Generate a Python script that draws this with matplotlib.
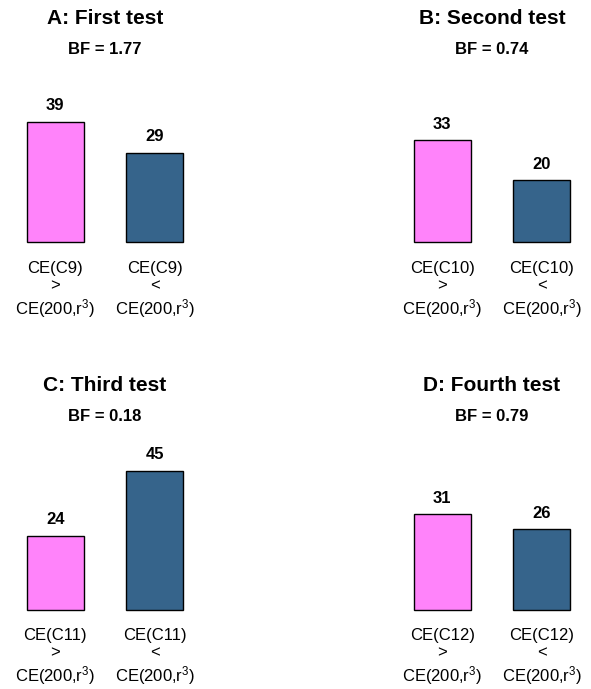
import matplotlib
matplotlib.use("Agg")
import matplotlib.pyplot as plt

plt.rcParams['font.family'] = ['Liberation Sans', 'DejaVu Sans']
plt.rcParams['mathtext.fontset'] = 'custom'
plt.rcParams['mathtext.rm'] = 'Liberation Sans'
plt.rcParams['mathtext.it'] = 'Liberation Sans'

# one panel per test: title, Bayes factor, counts for the two outcomes
titles = ['A: First test', 'B: Second test', 'C: Third test', 'D: Fourth test']
bf_values = ['1.77', '0.74', '0.18', '0.79']
clusters = ['C9', 'C10', 'C11', 'C12']
greater_counts = [39, 33, 24, 31]
less_counts = [29, 20, 45, 26]

bar_colors = ['#FF83FA', '#36648B']  # orchid1, steelblue4

W, H = 591, 689
fig = plt.figure(figsize=(W / 100, H / 100), dpi=100)

# axes boxes in pixels: (left, bar baseline from top)
boxes = [(27, 242), (414, 242), (27, 609.5), (414, 609.5)]
ax_w, ax_h = 156, 154
ymax = 50

for i in range(4):
    left, base = boxes[i]
    ax = fig.add_axes([left / W, (H - base) / H, ax_w / W, ax_h / H])
    xs = [0, 1.75]
    vals = [greater_counts[i], less_counts[i]]
    bars = ax.bar(xs, vals, width=1.0, color=bar_colors, edgecolor='black', linewidth=1.0)
    for b in bars:
        b.set_clip_on(False)
    for x, v in zip(xs, vals):
        ax.annotate(str(v), xy=(x, v), xytext=(0, 11.5), textcoords='offset points',
                    ha='center', va='center', fontsize=12, fontweight='bold')

    c = clusters[i]
    labels = [f'CE({c})\n>\nCE(200,r$^3$)', f'CE({c})\n<\nCE(200,r$^3$)']
    ax.set_xticks(xs, labels, fontsize=12)
    ax.tick_params(axis='x', length=0, pad=13.5)
    ax.set_yticks([])
    ax.set_xlim(-0.5, 2.25)
    ax.set_ylim(0, ymax)
    for s in ax.spines.values():
        s.set_visible(False)
    ax.patch.set_alpha(0)

    ax.annotate(titles[i], xy=(0.5, 1), xycoords='axes fraction', xytext=(0, 50.4),
                textcoords='offset points', ha='center', va='center',
                fontsize=15, fontweight='bold')
    ax.annotate(f'BF = {bf_values[i]}', xy=(0.5, 1), xycoords='axes fraction',
                xytext=(0, 28), textcoords='offset points', ha='center', va='center',
                fontsize=12, fontweight='bold')

fig.savefig('out.png', dpi=100, facecolor='white')
